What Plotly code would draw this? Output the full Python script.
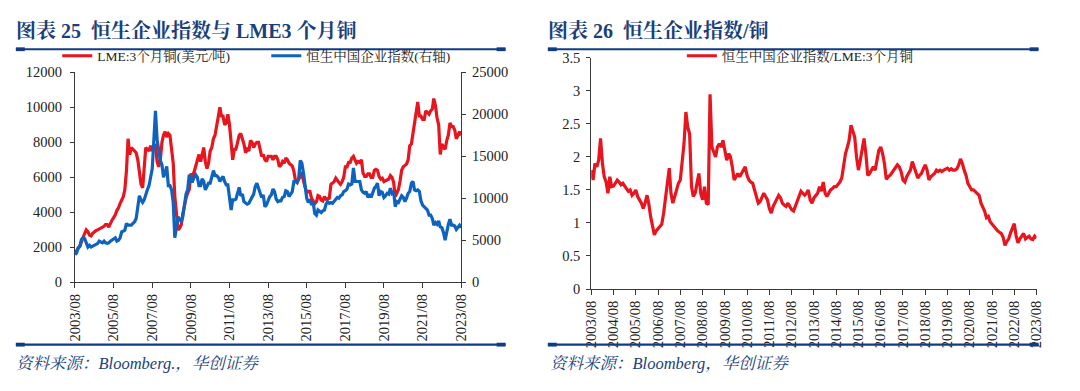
import pandas as pd
import plotly.graph_objects as go

# ---------------- data (monthly, 2003/08 - 2023/08) ----------------
start_month = "2003-08-01"

copper_usd = [
    # 2003 Aug-Dec
    1750, 1800, 1950, 2050, 2300,
    # 2004
    2500, 2800, 3000, 2900, 2700, 2650, 2800, 2900, 2950, 3000, 3050, 3100,
    # 2005
    3100, 3200, 3300, 3300, 3150, 3400, 3550, 3700, 3850, 4100, 4250, 4500,
    # 2006
    4700, 4900, 5300, 6400, 8200, 7300, 7700, 7600, 7500, 7400, 7000, 6400,
    # 2007
    5600, 5400, 6500, 7700, 7600, 7500, 7800, 7500, 7700, 7900, 6900, 6600,
    # 2008
    7000, 8000, 8400, 8600, 8300, 8500, 8400, 7500, 6800, 4900, 3700, 3000,
    # 2009
    3100, 3300, 3900, 4500, 4800, 5100, 5300, 6200, 6100, 6300, 6700, 7000,
    # 2010
    7300, 6900, 7400, 7700, 6900, 6500, 6800, 7500, 7700, 8200, 8400, 9000,
    # 2011
    9600, 10000, 9500, 9500, 9000, 9100, 9600, 9000, 8000, 7000, 7600, 7600,
    # 2012
    8000, 8400, 8500, 8200, 7900, 7400, 7600, 7500, 8100, 8000, 7700, 7900,
    # 2013
    8000, 8000, 7600, 7200, 7300, 7000, 6900, 7200, 7200, 7200, 7000, 7200,
    # 2014
    7200, 7000, 6600, 6700, 6900, 6800, 7100, 7000, 6800, 6700, 6650, 6350,
    # 2015
    5800, 5700, 5900, 6000, 6300, 5800, 5500, 5100, 5200, 5200, 4800, 4600,
    # 2016
    4500, 4600, 4950, 4900, 4700, 4650, 4900, 4750, 4800, 4800, 5600, 5700,
    # 2017
    5750, 5950, 5800, 5700, 5600, 5750, 6000, 6600, 6600, 6850, 6850, 7100,
    # 2018
    7200, 7000, 6800, 6900, 6850, 7000, 6250, 6050, 6050, 6200, 6200, 6000,
    # 2019
    6000, 6400, 6450, 6400, 6050, 5900, 5950, 5750, 5800, 5800, 5900, 6100,
    # 2020
    6000, 5700, 4900, 5100, 5300, 5800, 6400, 6600, 6700, 6750, 7000, 7800,
    # 2021
    7900, 8500, 9000, 9500, 10300, 9500, 9500, 9300, 9300, 9800, 9700, 9600,
    # 2022
    9800, 9900, 10500, 10100, 9400, 9000, 7300, 7900, 7700, 7600, 8100, 8400,
    # 2023 Jan-Aug
    9100, 8900, 8900, 8700, 8200, 8400, 8600, 8400,
]

hscei = [
    # 2003 Aug-Dec
    3300, 3500, 4100, 4300, 5100,
    # 2004
    5300, 5200, 4600, 4200, 4400, 4200, 4300, 4400, 4500, 4600, 4900, 4750,
    # 2005
    4700, 4900, 4700, 4650, 4700, 4900, 5000, 5100, 5300, 4900, 5000, 5300,
    # 2006
    6000, 6100, 6200, 7000, 6800, 6800, 6800, 7000, 7200, 7600, 8700, 10300,
    # 2007
    9800, 9500, 9800, 10500, 11000, 11500, 12500, 13500, 17000, 20400, 17000, 16000,
    # 2008
    14500, 14000, 12500, 13000, 13800, 11500, 11500, 11000, 9500, 5300, 6800, 7800,
    # 2009
    7500, 7200, 7800, 9000, 10500, 11000, 12800, 12000, 12000, 12500, 12800, 12500,
    # 2010
    11500, 11500, 12300, 12000, 11000, 11400, 11800, 11800, 12600, 13300, 12700, 12700,
    # 2011
    12500, 12000, 12300, 12600, 12000, 11600, 11600, 10000, 8600, 9800, 9800, 9900,
    # 2012
    10600, 11300, 10300, 10500, 9600, 9500, 9300, 9400, 9800, 10300, 10500, 11400,
    # 2013
    11800, 11200, 10600, 10100, 10400, 9000, 9200, 9800, 10200, 10400, 11100, 10800,
    # 2014
    9900, 9600, 9700, 9700, 10100, 10200, 10900, 10800, 10200, 10500, 10800, 12000,
    # 2015
    12000, 11900, 12300, 14500, 14200, 13000, 11500, 10000, 9500, 9900, 9200, 9500,
    # 2016
    8200, 8000, 8600, 8500, 8300, 8500, 8600, 9300, 9600, 9400, 9500, 9400,
    # 2017
    9700, 10000, 10100, 10000, 10300, 10400, 10800, 10900, 11100, 11700, 11600, 11700,
    # 2018
    13600, 12000, 12000, 12000, 12000, 11000, 10700, 10600, 10800, 10100, 10500, 10100,
    # 2019
    10700, 11200, 11400, 11800, 10300, 10800, 10700, 10100, 10300, 10600, 10500, 11200,
    # 2020
    10600, 10800, 9000, 9600, 9500, 10000, 10300, 10100, 9600, 10000, 10600, 10800,
    # 2021
    11800, 12000, 11000, 10900, 11000, 10800, 9700, 9200, 9000, 8900, 8600, 8000,
    # 2022
    8000, 7600, 6800, 7100, 6900, 7300, 6600, 6500, 5900, 5000, 6200, 6900,
    # 2023 Jan-Aug
    7500, 6800, 6800, 6700, 6300, 6500, 6800, 6500,
]

hscei_to_copper = [
    # 2003 Aug-Dec
    1.80, 1.65, 1.90, 1.85, 1.95,
    # 2004
    2.28, 1.90, 1.70, 1.62, 1.45, 1.70, 1.55, 1.56, 1.60, 1.65, 1.62, 1.58,
    # 2005
    1.60, 1.55, 1.52, 1.48, 1.50, 1.42, 1.45, 1.50, 1.40, 1.35, 1.30, 1.22,
    # 2006
    1.30, 1.42, 1.30, 1.10, 0.95, 0.82, 0.88, 0.92, 0.95, 0.98, 1.15, 1.35,
    # 2007
    1.60, 1.83, 1.45, 1.30, 1.40, 1.50, 1.60, 1.65, 1.90, 2.20, 2.68, 2.45,
    # 2008
    2.35, 1.55, 1.40, 1.45, 1.60, 1.75, 1.45, 1.35, 1.55, 1.30, 1.28, 2.95,
    # 2009
    2.15, 2.05, 2.00, 2.15, 2.20, 2.15, 2.25, 2.10, 1.95, 2.05, 2.00, 1.85,
    # 2010
    1.65, 1.70, 1.75, 1.70, 1.75, 1.80, 1.85, 1.72, 1.65, 1.62, 1.60, 1.50,
    # 2011
    1.40, 1.30, 1.32, 1.38, 1.45, 1.40, 1.35, 1.22, 1.15, 1.25, 1.30, 1.35,
    # 2012
    1.42, 1.38, 1.30, 1.27, 1.25, 1.30, 1.25, 1.20, 1.18, 1.25, 1.35, 1.42,
    # 2013
    1.48, 1.45, 1.42, 1.45, 1.50, 1.35, 1.30, 1.38, 1.42, 1.45, 1.55, 1.48,
    # 2014
    1.62, 1.45, 1.40, 1.45, 1.50, 1.52, 1.55, 1.55, 1.58, 1.62, 1.68, 1.90,
    # 2015
    2.05, 2.15, 2.25, 2.48, 2.40, 2.30, 2.00, 1.80, 1.95, 2.10, 2.28, 2.05,
    # 2016
    1.72, 1.75, 1.80, 1.85, 1.80, 1.95, 2.10, 2.15, 2.05, 1.90, 1.66, 1.70,
    # 2017
    1.72, 1.76, 1.80, 1.85, 1.88, 1.85, 1.78, 1.65, 1.62, 1.70, 1.75, 1.80,
    # 2018
    1.93, 1.85, 1.75, 1.68, 1.72, 1.75, 1.82, 1.88, 1.80, 1.65, 1.70, 1.72,
    # 2019
    1.75, 1.80, 1.78, 1.80, 1.78, 1.80, 1.82, 1.83, 1.80, 1.82, 1.80, 1.80,
    # 2020
    1.82, 1.88, 1.97, 1.90, 1.80, 1.72, 1.60, 1.56, 1.50, 1.50, 1.47, 1.45,
    # 2021
    1.42, 1.30, 1.25, 1.18, 1.08, 1.10, 1.02, 0.98, 0.95, 0.90, 0.88, 0.86,
    # 2022
    0.84, 0.78, 0.66, 0.72, 0.76, 0.85, 0.92, 0.99, 0.80, 0.70, 0.76, 0.80,
    # 2023 Jan-Aug
    0.84, 0.76, 0.78, 0.80, 0.76, 0.75, 0.80, 0.77,
]

left_tick_dates = ["2003-08-01", "2005-08-01", "2007-08-01", "2009-08-01", "2011-08-01",
                   "2013-08-01", "2015-08-01", "2017-08-01", "2019-08-01", "2021-08-01",
                   "2023-08-01"]
left_tick_labels = ["2003/08", "2005/08", "2007/08", "2009/08", "2011/08", "2013/08",
                    "2015/08", "2017/08", "2019/08", "2021/08", "2023/08"]

right_tick_dates = ["2003-08-01", "2004-08-01", "2005-08-01", "2006-08-01", "2007-08-01",
                    "2008-08-01", "2009-08-01", "2010-08-01", "2011-08-01", "2012-08-01",
                    "2013-08-01", "2014-08-01", "2015-08-01", "2016-08-01", "2017-08-01",
                    "2018-08-01", "2019-08-01", "2020-08-01", "2021-08-01", "2022-08-01",
                    "2023-08-01"]
right_tick_labels = ["2003/08", "2004/08", "2005/08", "2006/08", "2007/08", "2008/08",
                     "2009/08", "2010/08", "2011/08", "2012/08", "2013/08", "2014/08",
                     "2015/08", "2016/08", "2017/08", "2018/08", "2019/08", "2020/08",
                     "2021/08", "2022/08", "2023/08"]

title_left = "图表 25  恒生企业指数与 LME3 个月铜"
title_right = "图表 26  恒生企业指数/铜"
source_left = "资料来源：Bloomberg.，华创证券"
source_right = "资料来源：Bloomberg，华创证券"

# ---------------- styling ----------------
W, H = 1080, 391
RED = "#E8141E"
BLUE = "#0E63BE"
NAVY = "#1B3F7A"
RULE = "#0F3C84"
AXIS = "#3a3a3a"
SERIF = "Liberation Serif, Noto Serif CJK SC, Noto Sans CJK SC, serif"
CJK = "Liberation Serif, Noto Serif CJK SC, Noto Sans CJK SC"

def px(x):
    return x / W

def py(y):
    return 1 - y / H

dates = pd.date_range(start_month, periods=len(copper_usd), freq="MS")

fig = go.Figure()
fig.add_trace(go.Scatter(x=dates, y=copper_usd, name="LME:3个月铜(美元/吨)",
                         mode="lines", line=dict(color=RED, width=3.2),
                         xaxis="x", yaxis="y", legend="legend"))
fig.add_trace(go.Scatter(x=dates, y=hscei, name="恒生中国企业指数(右轴)",
                         mode="lines", line=dict(color=BLUE, width=3.2),
                         xaxis="x", yaxis="y2", legend="legend"))
fig.add_trace(go.Scatter(x=dates, y=hscei_to_copper, name="恒生中国企业指数/LME:3个月铜",
                         mode="lines", line=dict(color=RED, width=3.2),
                         xaxis="x2", yaxis="y3", legend="legend2"))

tickfont = dict(family=SERIF, size=14.5, color="#222222")
common_x = dict(type="date", showgrid=False, zeroline=False, showline=True,
                linecolor=AXIS, linewidth=1, ticks="outside", ticklen=5,
                tickcolor=AXIS, tickangle=-90, tickfont=tickfont)
common_y = dict(showgrid=False, zeroline=False, showline=True, linecolor=AXIS,
                linewidth=1, ticks="outside", ticklen=4, tickcolor=AXIS,
                tickfont=tickfont)

fig.update_layout(
    width=W, height=H, autosize=False,
    margin=dict(l=0, r=0, t=0, b=0),
    paper_bgcolor="white", plot_bgcolor="white",
    xaxis=dict(common_x, domain=[px(68), px(460)], anchor="y",
               range=[left_tick_dates[0], left_tick_dates[-1]],
               tickvals=left_tick_dates, ticktext=left_tick_labels),
    yaxis=dict(common_y, domain=[py(286), py(67)], anchor="x",
               range=[0, 12000], dtick=2000, tickformat="d", ticklabelstandoff=5),
    yaxis2=dict(common_y, overlaying="y", side="right", anchor="x",
                range=[0, 25000], dtick=5000, tickformat="d", ticklabelstandoff=3),
    xaxis2=dict(common_x, domain=[px(592), px(1044)], anchor="y3",
                range=[right_tick_dates[0], right_tick_dates[-1]],
                tickvals=right_tick_dates, ticktext=right_tick_labels),
    yaxis3=dict(common_y, domain=[py(293), py(52)], anchor="x2",
                range=[0, 3.5], dtick=0.5, ticklabelstandoff=3),
    legend=dict(orientation="h", x=px(50), y=py(50), xanchor="left", yanchor="middle",
                font=dict(family=CJK, size=13.5, color="#222222"),
                entrywidth=164, entrywidthmode="pixels",
                bgcolor="rgba(0,0,0,0)", tracegroupgap=0),
    legend2=dict(orientation="h", x=px(684), y=py(50), xanchor="left", yanchor="middle",
                 font=dict(family=CJK, size=13.5, color="#222222"),
                 bgcolor="rgba(0,0,0,0)"),
    showlegend=True,
)

# titles and sources
for txt, x in [(title_left, 6), (title_right, 546)]:
    fig.add_annotation(text="<b>" + txt + "</b>", x=px(x), y=py(23), xref="paper", yref="paper",
                       xanchor="left", yanchor="middle", showarrow=False,
                       font=dict(family=CJK, size=20, color=NAVY))
for txt, x in [(source_left, 6), (source_right, 548)]:
    fig.add_annotation(text="<i>" + txt + "</i>", x=px(x), y=py(371), xref="paper", yref="paper",
                       xanchor="left", yanchor="middle", showarrow=False,
                       font=dict(family=CJK, size=16.5, color=NAVY))

# horizontal rules with heavier end caps
for (x0, x1) in [(8, 505), (548, 1046)]:
    for yy in (43, 351):
        fig.add_shape(type="line", xref="paper", yref="paper",
                      x0=px(x0), x1=px(x1), y0=py(yy), y1=py(yy),
                      line=dict(color=RULE, width=2.2))
        for (a, b) in [(x0, x0 + 9), (x1 - 9, x1)]:
            fig.add_shape(type="rect", xref="paper", yref="paper",
                          x0=px(a), x1=px(b), y0=py(yy + 2), y1=py(yy - 2),
                          line=dict(width=0), fillcolor=RULE)

fig.write_html("out.html", config={"displayModeBar": False},
               post_script="document.body.style.margin='0';")
